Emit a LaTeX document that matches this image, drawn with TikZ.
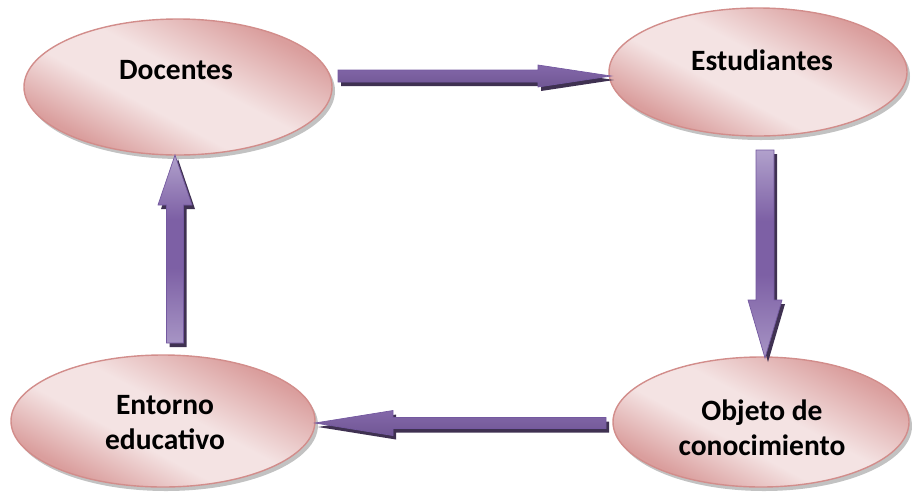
\documentclass[tikz,border=0pt]{standalone}
\usepackage{fontspec}
\setmainfont{Carlito}
\usetikzlibrary{shapes.geometric,shadows,calc}

\definecolor{pinklight}{HTML}{F4E3E3}
\definecolor{pinkdark}{HTML}{DA9E9D}
\definecolor{pinkline}{HTML}{D28D8B}
\definecolor{arrowmain}{HTML}{7D60A5}
\definecolor{arrowlight}{HTML}{B1A1CC}
\definecolor{arrowedge}{HTML}{7459A0}
\definecolor{arrowshadow}{HTML}{3F3151}

% pink fill: light diagonal band through the middle, darker towards two corners
\pgfdeclareverticalshading{pinkband}{100bp}{%
  color(0bp)=(pinkdark); color(27bp)=(pinkdark);
  color(42bp)=(pinklight); color(54bp)=(pinklight);
  color(73bp)=(pinkdark); color(100bp)=(pinkdark)}

% vertical block arrows: light at both ends, deeper purple in the middle
\pgfdeclareverticalshading{purpleshaft}{100bp}{%
  color(0bp)=(arrowlight!80!arrowmain); color(25bp)=(arrowlight!80!arrowmain);
  color(45bp)=(arrowmain); color(58bp)=(arrowmain);
  color(75bp)=(arrowlight); color(100bp)=(arrowlight)}

% block arrow: style, start, tip, shaft half width, head half width, head length
\newcommand\blockarrow[6]{%
  \coordinate (#2-#3-h) at ($(#3)!#6!(#2)$);
  \path[#1] ($(#2)!#4!90:(#3)$) -- ($(#2-#3-h)!#4!90:(#3)$)
    -- ($(#2-#3-h)!#5!90:(#3)$) -- (#3)
    -- ($(#2-#3-h)!#5!-90:(#3)$) -- ($(#2-#3-h)!#4!-90:(#3)$)
    -- ($(#2)!#4!-90:(#3)$) -- cycle;
}

\tikzset{
  bubble/.style={ellipse, inner sep=0pt, draw=pinkline, line width=1.4pt,
    shade, shading=pinkband, shading angle=-28,
    drop shadow={shadow xshift=3pt, shadow yshift=-4pt, opacity=0.4, fill=black!60}},
  lbl/.style={font=\fontsize{29.5}{35}\selectfont\bfseries, text=black, inner sep=0pt},
  arrowbase/.style={draw=arrowedge, line width=0.7pt, line join=miter,
    drop shadow={shadow xshift=3pt, shadow yshift=-4pt, opacity=1, fill=arrowshadow}},
  harrow/.style={arrowbase, top color=arrowmain!95!white,
    middle color=arrowlight!70!arrowmain, bottom color=arrowmain!90!black},
  varrow/.style={arrowbase, shade, shading=purpleshaft}
}

\begin{document}
\begin{tikzpicture}[x=1pt,y=-1pt]
\useasboundingbox (0,0) rectangle (912,491);

% the four ellipses
\node[bubble, minimum width=308pt, minimum height=136pt] (doc) at (178,87) {};
\node[bubble, minimum width=298pt, minimum height=128pt] (est) at (758,72) {};
\node[bubble, minimum width=296pt, minimum height=130pt] (obj) at (761,422) {};
\node[bubble, minimum width=304pt, minimum height=132pt] (ent) at (163,421) {};

% their labels
\node[lbl] (doct) at (176,70) {Docentes};
\node[lbl] (estt) at (762,60) {Estudiantes};
\node[lbl, align=center] (objt) at (762,428) {Objeto de\\conocimiento};
\node[lbl, align=center] (entt) at (165,423) {Entorno\\educativo};

% end points of the block arrows
\coordinate (a1s) at (338,76);  \coordinate (a1e) at (611,76);
\coordinate (a2s) at (765,150); \coordinate (a2e) at (765,358);
\coordinate (a3s) at (606,423); \coordinate (a3e) at (315,423);
\coordinate (a4s) at (175,343); \coordinate (a4e) at (175,155);

\blockarrow{harrow}{a1s}{a1e}{6pt}{11pt}{73pt}
\blockarrow{varrow}{a2s}{a2e}{9pt}{17pt}{58pt}
\blockarrow{harrow}{a3s}{a3e}{5.5pt}{12.5pt}{78pt}
\blockarrow{varrow}{a4s}{a4e}{8.5pt}{17pt}{50pt}
\end{tikzpicture}
\end{document}
